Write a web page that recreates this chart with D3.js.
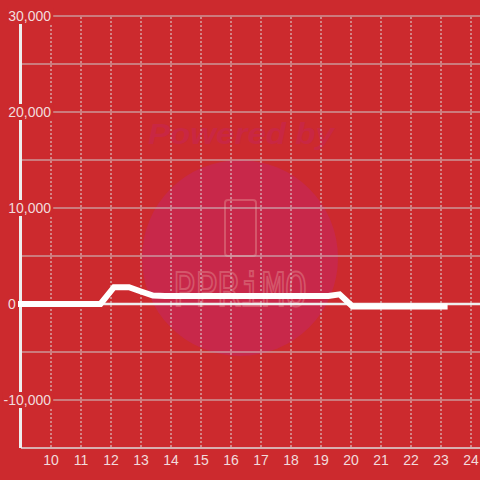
<!DOCTYPE html>
<html><head><meta charset="utf-8">
<script src="https://cdn.jsdelivr.net/npm/d3@7"></script>
<style>html,body{margin:0;padding:0;background:#cc2a2e;}svg{display:block;font-family:"Liberation Sans",Arial,sans-serif;}</style>
</head><body><svg id="c" width="480" height="480"></svg>
<script>
const hours  = [8.88, 11.65, 12.1, 12.6, 13.0, 13.4, 13.8, 19.25, 19.62, 20.05, 23.22];
const values = [0, 0, 1750, 1750, 1300, 880, 830, 830, 1000, -250, -250];
const xTicks = [10,11,12,13,14,15,16,17,18,19,20,21,22,23,24];
const yTicks = [30000, 20000, 10000, 0, -10000];
const yGrid  = [30000, 25000, 20000, 15000, 10000, 5000, 0, -5000, -10000];

const BG = "#cc2a2e";
const svg = d3.select("#c");
const x = d3.scaleLinear().domain([9, 24.3]).range([21, 480]);
const y = d3.scaleLinear().domain([-15000, 30000]).range([448, 16]);

svg.append("rect").attr("width",480).attr("height",480).attr("fill",BG);

// watermark
const wm = svg.append("g");
wm.append("circle").attr("cx",240).attr("cy",258).attr("r",98).attr("fill","#c8284a");
wm.append("text").attr("x",148).attr("y",144)
  .attr("font-size",30).attr("font-weight","bold").attr("font-style","italic")
  .attr("textLength",186).attr("lengthAdjust","spacingAndGlyphs")
  .attr("fill","#c92743").text("Powered by");
wm.append("rect").attr("x",225).attr("y",200).attr("width",31).attr("height",56).attr("rx",3)
  .attr("fill","none").attr("stroke","#d4566a").attr("stroke-width",2);
wm.append("text").attr("x",173).attr("y",306).attr("font-family","DejaVu Sans Mono")
  .attr("font-size",46).attr("textLength",134).attr("lengthAdjust","spacingAndGlyphs")
  .attr("fill","none").attr("stroke","#d4566a").attr("stroke-width",2).text("PPRiMO");

// horizontal grid
svg.append("g").selectAll("line").data(yGrid).join("line")
  .attr("x1",21).attr("x2",480)
  .attr("y1",d=>y(d)).attr("y2",d=>y(d))
  .attr("stroke",d=>d===0?"#eeeeee":"#cccccc")
  .attr("stroke-width",d=>d===0?2.5:1.2);

// vertical dashed grid
svg.append("g").selectAll("line").data(xTicks).join("line")
  .attr("x1",d=>x(d)).attr("x2",d=>x(d)).attr("y1",17).attr("y2",447)
  .attr("stroke","#dddddd").attr("stroke-width",1).attr("stroke-dasharray","2,2");

// bottom axis
svg.append("line").attr("x1",21).attr("x2",480).attr("y1",448).attr("y2",448)
  .attr("stroke","#dddddd").attr("stroke-width",1.5);
// left axis
svg.append("line").attr("x1",20.5).attr("x2",20.5).attr("y1",16).attr("y2",448)
  .attr("stroke","#eeeeee").attr("stroke-width",3);

// data line
const line = d3.line().x((d,i)=>x(hours[i])).y(d=>y(d));
svg.append("path").attr("d",line(values)).attr("fill","none")
  .attr("stroke","#ffffff").attr("stroke-width",6).attr("stroke-linejoin","miter");

// y labels
const fmt = d3.format(",");
const yl = svg.append("g");
yTicks.forEach(t=>{
  const g = yl.append("g");
  const txt = g.append("text").attr("y",y(t)+5).attr("font-size",14).attr("fill","#f2dcdc")
    .text(fmt(t).replace("−","-"));
  if (t===0) txt.attr("x",8).attr("text-anchor","start");
  else txt.attr("x",51).attr("text-anchor","end");
  const b = txt.node().getBBox();
  g.insert("rect","text").attr("x",b.x-1).attr("y",y(t)-8).attr("width",b.width+3).attr("height",16).attr("fill",BG);
});

// x labels
svg.append("g").selectAll("text").data(xTicks).join("text")
  .attr("x",d=>x(d)).attr("y",465).attr("text-anchor","middle")
  .attr("font-size",14).attr("fill","#f2dcdc").text(d=>d);
</script></body></html>
